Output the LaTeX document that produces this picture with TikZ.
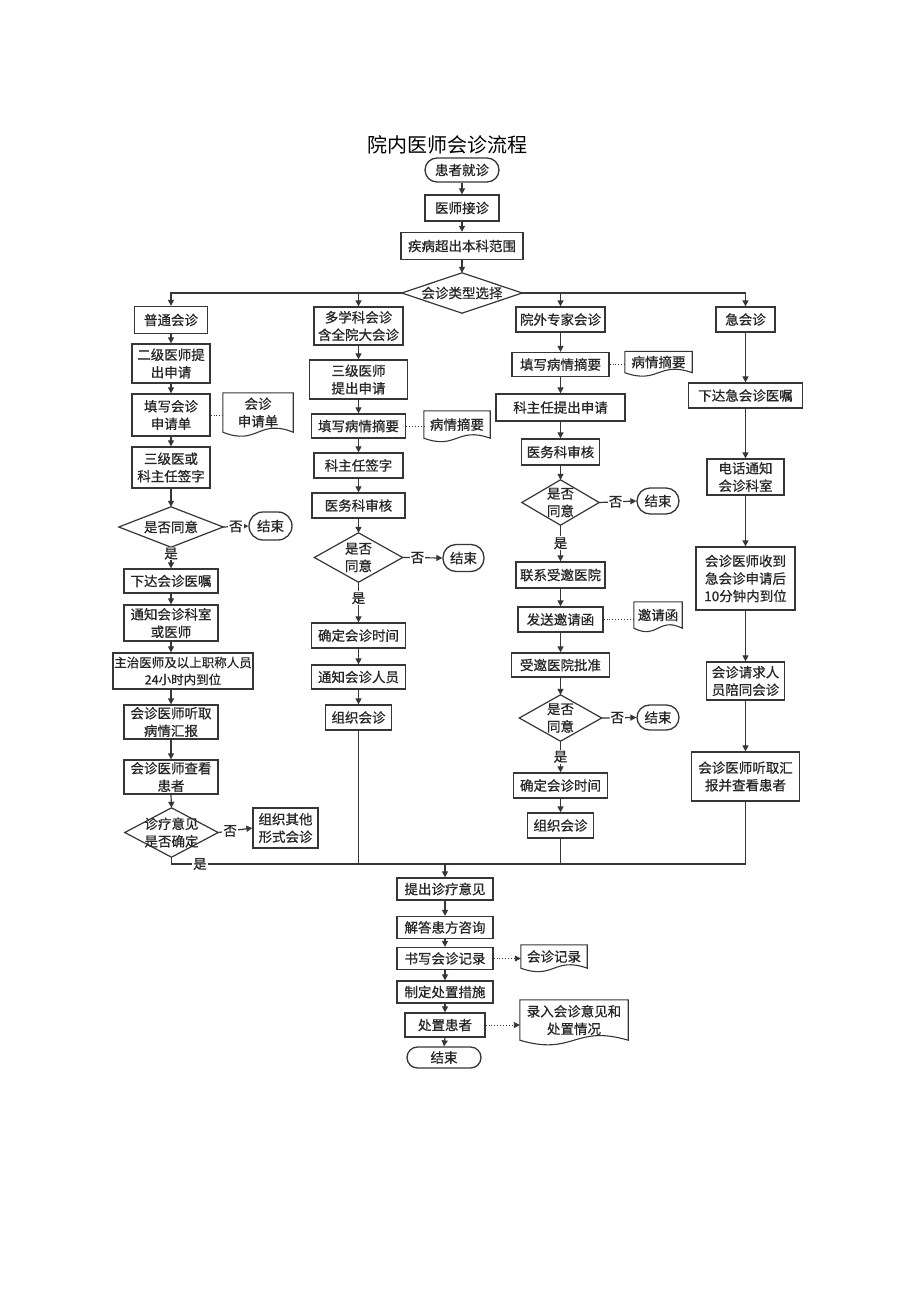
\documentclass[tikz,border=0pt]{standalone}
\usepackage{fontspec}
\setmainfont{Noto Sans CJK SC}
\newfontfamily\cjkb[FakeBold=0.6]{Noto Sans CJK SC}
\usetikzlibrary{arrows.meta,calc}
\definecolor{linec}{HTML}{363636}
\definecolor{textc}{HTML}{262626}
\newcommand{\fs}{\cjkb\fontsize{13.5}{17.5}\selectfont}
\newcommand{\fsm}{\cjkb\fontsize{12.5}{17}\selectfont}
\newcommand{\diam}[1]{\draw[ln] (#1.north) -- (#1.east) -- (#1.south) -- (#1.west) -- cycle;}
\newcommand{\docp}[2]{\draw[docln] (#1.south west) -- (#1.north west) -- (#1.north east) -- (#1.south east) .. controls ($(#1.south)+(0,-#2)$) and ($(#1.south)+(0,#2)$) .. (#1.south west) -- cycle;}
\tikzset{
  base/.style={inner sep=0pt, font=\fs, text=textc, align=center},
  box/.style={base, draw=linec, line width=1.3pt, rectangle},
  term/.style={box},
  dia/.style={base},
  doc/.style={base},
  sz/.style 2 args={minimum width=#1pt, minimum height=#2pt},
  ln/.style={draw=linec, line width=1.2pt},
  docln/.style={draw=linec, line width=1.1pt},
  arr/.style={ln, -{Triangle[length=6pt,width=6pt]}},
  dot/.style={draw=linec, line width=0.9pt, dotted},
  dotarr/.style={dot, -{Triangle[length=6pt,width=6pt]}},
  lab/.style={fill=white, inner sep=1pt, font=\fs, text=textc}
}
\begin{document}
\begin{tikzpicture}[x=1pt,y=-1pt]
\useasboundingbox[fill=white] (0,0) rectangle (920,1301);

% title
\node[font=\fontsize{20}{24}\selectfont, text=black] (title) at (447,145) {院内医师会诊流程};

% centre column
\node[term, sz={74}{24}, rounded corners=12pt] (s0) at (462,170) {患者就诊};
\node[box, sz={74}{26}] (s1) at (462,208) {医师接诊};
\node[box, sz={122}{27}] (s2) at (462,246) {疾病超出本科范围};
\node[dia, sz={120}{40}] (s3) at (462,293) {会诊类型选择};
\diam{s3}

% column 1
\node[box, sz={73}{27}] (a1) at (171,320) {普通会诊};
\node[box, sz={78}{39}] (a2) at (171,363.5) {二级医师提\\出申请};
\node[box, sz={78}{42}] (a3) at (171,415) {填写会诊\\申请单};
\node[doc, sz={70}{39}] (a3d) at (258,412.5) {会诊\\申请单};
\docp{a3d}{14}
\node[box, sz={78}{41}] (a4) at (171,467.5) {三级医或\\科主任签字};
\node[dia, sz={104}{40}] (a5) at (171,527) {是否同意};
\diam{a5}
\node[term, sz={43}{28}, rounded corners=14pt] (a5e) at (270.5,526) {结束};
\node[box, sz={94}{24}] (a6) at (171,581) {下达会诊医嘱};
\node[box, sz={94}{36}] (a7) at (171,623) {通知会诊科室\\或医师};
\node[box, sz={140}{36}, font=\fsm] (a8) at (183,671) {主治医师及以上职称人员\\24小时内到位};
\node[box, sz={94}{34}] (a9) at (171,722) {会诊医师听取\\病情汇报};
\node[box, sz={94}{34}] (a10) at (171,777) {会诊医师查看\\患者};
\node[dia, sz={93}{49}] (a11) at (171.5,832.5) {诊疗意见\\是否确定};
\diam{a11}
\node[box, sz={65}{40}] (a11e) at (285.5,828) {组织其他\\形式会诊};

% column 2
\node[box, sz={89}{38}] (b1) at (358.5,326) {多学科会诊\\含全院大会诊};
\node[box, sz={98}{39}] (b2) at (358.5,379.5) {三级医师\\提出申请};
\node[box, sz={94}{24}] (b3) at (358.5,426) {填写病情摘要};
\node[doc, sz={66}{27}] (b3d) at (457,424.5) {病情摘要};
\docp{b3d}{12}
\node[box, sz={89}{25}] (b4) at (358.5,465.5) {科主任签字};
\node[box, sz={93}{25}] (b5) at (358.5,505.5) {医务科审核};
\node[dia, sz={88}{49}] (b6) at (358.5,557.5) {是否\\同意};
\diam{b6}
\node[term, sz={41}{27}, rounded corners=13pt] (b6e) at (463.5,558) {结束};
\node[box, sz={94}{25}] (b7) at (358.5,635.5) {确定会诊时间};
\node[box, sz={94}{24}] (b8) at (358.5,677) {通知会诊人员};
\node[box, sz={66}{25}] (b9) at (358.5,717.5) {组织会诊};

% column 3
\node[box, sz={89}{25}] (c1) at (560.5,319.5) {院外专家会诊};
\node[box, sz={97}{24}] (c2) at (560.5,364.5) {填写病情摘要};
\node[doc, sz={67}{21}] (c2d) at (658.5,362) {病情摘要};
\docp{c2d}{12}
\node[box, sz={129}{27}] (c3) at (560.5,407.5) {科主任提出申请};
\node[box, sz={78}{26}] (c4) at (560.5,452) {医务科审核};
\node[dia, sz={77}{45}] (c5) at (560.5,502.5) {是否\\同意};
\diam{c5}
\node[term, sz={42}{26}, rounded corners=13pt] (c5e) at (658,501) {结束};
\node[box, sz={89}{26}] (c6) at (560.5,575) {联系受邀医院};
\node[box, sz={85}{25}] (c7) at (560.5,619.5) {发送邀请函};
\node[doc, sz={48}{26}] (c7d) at (658,615) {邀请函};
\docp{c7d}{12}
\node[box, sz={98}{24}] (c8) at (560.5,665) {受邀医院批准};
\node[dia, sz={82}{46}] (c9) at (560.5,718) {是否\\同意};
\diam{c9}
\node[term, sz={42}{25}, rounded corners=12.5pt] (c9e) at (658,717.5) {结束};
\node[box, sz={94}{25}] (c10) at (560.5,785.5) {确定会诊时间};
\node[box, sz={66}{25}] (c11) at (560.5,825.5) {组织会诊};

% column 4
\node[box, sz={59}{25}] (d1) at (745.5,319.5) {急会诊};
\node[box, sz={114}{25}] (d2) at (745.5,395.5) {下达急会诊医嘱};
\node[box, sz={77}{36}] (d3) at (745.5,477) {电话通知\\会诊科室};
\node[box, sz={99}{63}] (d4) at (745.5,578.5) {会诊医师收到\\急会诊申请后\\10分钟内到位};
\node[box, sz={78}{38}] (d5) at (745.5,681) {会诊请求人\\员陪同会诊};
\node[box, sz={108}{49}] (d6) at (745.5,776.5) {会诊医师听取汇\\报并查看患者};

% bottom column
\node[box, sz={96}{22}] (e1) at (445,889) {提出诊疗意见};
\node[box, sz={96}{22}] (e2) at (445,927.5) {解答患方咨询};
\node[box, sz={96}{22}] (e3) at (445,958.5) {书写会诊记录};
\node[doc, sz={66}{23}] (e3d) at (554,956.5) {会诊记录};
\docp{e3d}{12}
\node[box, sz={96}{22}] (e4) at (445,992) {制定处置措施};
\node[box, sz={80}{24}] (e5) at (445,1025) {处置患者};
\node[doc, sz={108}{40}] (e5d) at (574,1020) {录入会诊意见和\\处置情况};
\docp{e5d}{16}
\node[term, sz={74}{21}, rounded corners=10.5pt] (e6) at (444,1057.5) {结束};

\coordinate (m) at (445,864);

% top connectors
\draw[arr] (s0.south) -- (s1.north);
\draw[arr] (s1.south) -- (s2.north);
\draw[arr] (s2.south) -- (s3.north);
\draw[arr] (s3.west) -| (a1.north);
\draw[arr] (s3.west -| b1.north) -- (b1.north);
\draw[arr] (s3.east -| c1.north) -- (c1.north);
\draw[arr] (s3.east) -| (d1.north);

% column 1 connectors
\draw[arr] (a1.south) -- (a2.north);
\draw[arr] (a2.south) -- (a3.north);
\draw[dot] (a3.east) -- (a3d.west |- a3.east);
\draw[arr] (a3.south) -- (a4.north);
\draw[arr] (a4.south) -- (a5.north);
\draw[arr] (a5.east) -- node[lab]{否} (a5e.west);
\draw[arr] (a5.south) -- node[lab,pos=0.3]{是} (a6.north);
\draw[arr] (a6.south) -- (a7.north);
\draw[arr] (a7.south) -- (a7.south |- a8.north);
\draw[arr] (a7.south |- a8.south) -- (a9.north);
\draw[arr] (a9.south) -- (a10.north);
\draw[arr] (a10.south) -- (a11.north);
\draw[arr] (a11.east) -- node[lab,pos=0.35]{否} (a11e.west);

% column 2 connectors
\draw[arr] (b1.south) -- (b2.north);
\draw[arr] (b2.south) -- (b3.north);
\draw[dot] (b3.east) -- (b3d.west |- b3.east);
\draw[arr] (b3.south) -- (b4.north);
\draw[arr] (b4.south) -- (b5.north);
\draw[arr] (b5.south) -- (b6.north);
\draw[arr] (b6.east) -- node[lab,pos=0.37]{否} (b6e.west);
\draw[arr] (b6.south) -- node[lab,pos=0.4]{是} (b7.north);
\draw[arr] (b7.south) -- (b8.north);
\draw[arr] (b8.south) -- (b9.north);

% column 3 connectors
\draw[arr] (c1.south) -- (c2.north);
\draw[dot] (c2.east) -- (c2d.west |- c2.east);
\draw[arr] (c2.south) -- (c3.north);
\draw[arr] (c3.south) -- (c4.north);
\draw[arr] (c4.south) -- (c5.north);
\draw[arr] (c5.east) -- node[lab,pos=0.44]{否} (c5e.west);
\draw[arr] (c5.south) -- node[lab,pos=0.5]{是} (c6.north);
\draw[arr] (c6.south) -- (c7.north);
\draw[dot] (c7.east) -- (c7d.west |- c7.east);
\draw[arr] (c7.south) -- (c8.north);
\draw[arr] (c8.south) -- (c9.north);
\draw[arr] (c9.east) -- node[lab,pos=0.45]{否} (c9e.west);
\draw[arr] (c9.south) -- node[lab,pos=0.5]{是} (c10.north);
\draw[arr] (c10.south) -- (c11.north);

% column 4 connectors
\draw[arr] (d1.south) -- (d2.north);
\draw[arr] (d2.south) -- (d3.north);
\draw[arr] (d3.south) -- (d4.north);
\draw[arr] (d4.south) -- (d5.north);
\draw[arr] (d5.south) -- (d6.north);

% merge
\draw[ln] (a11.south) |- (m);
\draw[ln] (b9.south) |- (m);
\draw[ln] (c11.south) |- (m);
\draw[ln] (d6.south) |- (m);
\node[lab] (yes5) at (200,864) {是};
\draw[arr] (m) -- (e1.north);

% bottom connectors
\draw[arr] (e1.south) -- (e2.north);
\draw[arr] (e2.south) -- (e3.north);
\draw[dotarr] (e3.east) -- (e3d.west |- e3.east);
\draw[arr] (e3.south) -- (e4.north);
\draw[arr] (e4.south) -- (e5.north);
\draw[dotarr] (e5.east) -- (e5d.west |- e5.east);
\draw[arr] (e5.south) -- (e6.north);
\end{tikzpicture}
\end{document}
